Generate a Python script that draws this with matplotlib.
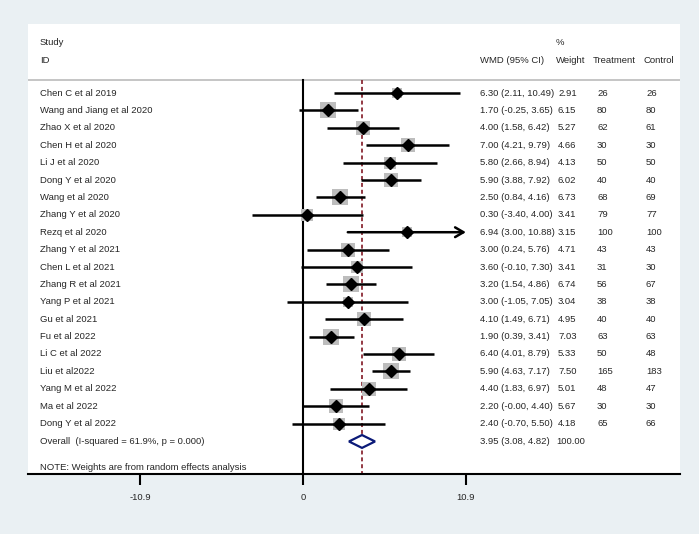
import matplotlib.pyplot as plt
from matplotlib.patches import Polygon
from matplotlib.transforms import blended_transform_factory

plt.rcParams['font.family'] = ['Liberation Sans', 'DejaVu Sans']

studies = ['Chen C et al 2019', 'Wang and Jiang et al 2020', 'Zhao X et al 2020',
           'Chen H et al 2020', 'Li J et al 2020', 'Dong Y et al 2020', 'Wang et al 2020',
           'Zhang Y et al 2020', 'Rezq et al 2020', 'Zhang Y et al 2021', 'Chen L et al 2021',
           'Zhang R et al 2021', 'Yang P et al 2021', 'Gu et al 2021', 'Fu et al 2022',
           'Li C et al 2022', 'Liu et al2022', 'Yang M et al 2022', 'Ma et al 2022',
           'Dong Y et al 2022']
wmd = [6.30, 1.70, 4.00, 7.00, 5.80, 5.90, 2.50, 0.30, 6.94, 3.00, 3.60, 3.20, 3.00,
       4.10, 1.90, 6.40, 5.90, 4.40, 2.20, 2.40]
ci_lo = [2.11, -0.25, 1.58, 4.21, 2.66, 3.88, 0.84, -3.40, 3.00, 0.24, -0.10, 1.54,
         -1.05, 1.49, 0.39, 4.01, 4.63, 1.83, -0.0, -0.70]
ci_hi = [10.49, 3.65, 6.42, 9.79, 8.94, 7.92, 4.16, 4.00, 10.88, 5.76, 7.30, 4.86,
         7.05, 6.71, 3.41, 8.79, 7.17, 6.97, 4.40, 5.50]
weight = [2.91, 6.15, 5.27, 4.66, 4.13, 6.02, 6.73, 3.41, 3.15, 4.71, 3.41, 6.74, 3.04,
          4.95, 7.03, 5.33, 7.50, 5.01, 5.67, 4.18]
treatment = [26, 80, 62, 30, 50, 40, 68, 79, 100, 43, 31, 56, 38, 40, 63, 50, 165, 48, 30, 65]
control = [26, 80, 61, 30, 50, 40, 69, 77, 100, 43, 30, 67, 38, 40, 63, 48, 183, 47, 30, 66]

overall = (3.95, 3.08, 4.82)
overall_label = 'Overall  (I-squared = 61.9%, p = 0.000)'
note = 'NOTE: Weights are from random effects analysis'
xticks = [-10.9, 0, 10.9]
arrow_rows = ['Rezq et al 2020']

bg = '#EAF0F3'
fig = plt.figure(figsize=(6.99, 5.34), dpi=100, facecolor=bg)
ax = fig.add_axes([28 / 699, 60 / 534, 652 / 699, 450 / 534])
ax.set_facecolor('white')
ax.set_xlim(-18.39, 25.22)
ax.set_ylim(21.9, -3.97)

n = len(studies)
y_over = n + 0.03
y_note = n + 1.5
y_head = -0.75
fs = 6.8
tc = '#262626'

# reference lines
ax.plot([0, 0], [y_head, 21.9], color='black', lw=1.5, zorder=2)
ax.plot([overall[0]] * 2, [y_head, 21.9], color='#8B2A35', lw=1.3,
        ls=(0, (2.2, 1.6)), zorder=2)
ax.axhline(y_head, color='#BBBBBB', lw=1.2, zorder=1)

for i in range(n):
    ax.scatter(wmd[i], i, marker='s', s=19 * weight[i], color='#BDBDBD',
               linewidths=0, zorder=3)
    if studies[i] in arrow_rows:
        ax.annotate('', xy=(10.9, i), xytext=(ci_lo[i], i),
                    arrowprops=dict(arrowstyle='->,head_length=0.6,head_width=0.35',
                                    color='black', lw=1.8, shrinkA=0, shrinkB=0),
                    zorder=4)
    else:
        ax.plot([ci_lo[i], ci_hi[i]], [i, i], color='black', lw=1.8,
                solid_capstyle='butt', zorder=4)
    ax.plot(wmd[i], i, marker='D', ms=6, color='black', zorder=5)

h = 0.37
ax.add_patch(Polygon([(overall[1], y_over), (overall[0], y_over - h),
                      (overall[2], y_over), (overall[0], y_over + h)],
                     closed=True, facecolor='white', edgecolor='#0B1A78',
                     lw=1.6, zorder=5))

# text columns (axes fraction x, data y)
tr = blended_transform_factory(ax.transAxes, ax.transData)


def col(px):
    return (px - 28) / 652


kw = dict(transform=tr, fontsize=fs, color=tc, va='center', ha='left')
ax.text(col(40), -2.93, 'Study', **kw)
ax.text(col(40), -1.9, 'ID', **kw)
ax.text(col(556), -2.93, '%', **kw)
ax.text(col(480), -1.9, 'WMD (95% CI)', **kw)
ax.text(col(556), -1.9, 'Weight', **kw)
ax.text(col(593), -1.9, 'Treatment', **kw)
ax.text(col(644), -1.9, 'Control', **kw)

for i in range(n):
    ax.text(col(40), i, studies[i], **kw)
    ax.text(col(480), i, f'{wmd[i]:.2f} ({ci_lo[i]:.2f}, {ci_hi[i]:.2f})', **kw)
    ax.text(col(558), i, f'{weight[i]:.2f}', **kw)
    ax.text(col(597), i, str(treatment[i]), **kw)
    ax.text(col(646), i, str(control[i]), **kw)

ax.text(col(40), y_over, overall_label, **kw)
ax.text(col(480), y_over, f'{overall[0]:.2f} ({overall[1]:.2f}, {overall[2]:.2f})', **kw)
ax.text(col(556), y_over, '100.00', **kw)
ax.text(col(40), y_note, note, **kw)

for s in ['top', 'left', 'right']:
    ax.spines[s].set_visible(False)
ax.spines['bottom'].set_linewidth(1.5)
ax.set_yticks([])
ax.set_xticks(xticks)
ax.set_xticklabels([str(t) for t in xticks])
ax.tick_params(axis='x', direction='out', length=8, width=1.5, pad=6,
               labelsize=fs, labelcolor=tc)

fig.savefig('out.png', dpi=100, facecolor=bg)
